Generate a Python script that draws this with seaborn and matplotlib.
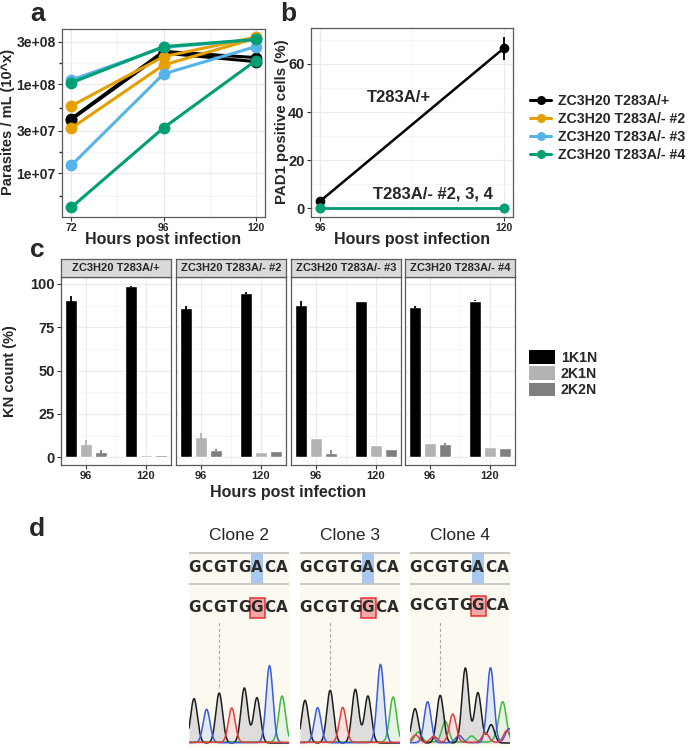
import numpy as np
import pandas as pd
import matplotlib
matplotlib.use("Agg")
import matplotlib.pyplot as plt
import seaborn as sns
from matplotlib.lines import Line2D
from matplotlib.patches import Patch, Rectangle

sns.set_theme(style="ticks")
plt.rcParams["font.family"] = ["Liberation Sans", "DejaVu Sans"]
plt.rcParams["font.weight"] = "bold"
plt.rcParams["axes.labelweight"] = "bold"

W, H = 690, 751

genotypes = ["ZC3H20 T283A/+", "ZC3H20 T283A/- #2", "ZC3H20 T283A/- #3", "ZC3H20 T283A/- #4"]
geno_colors = ["#000000", "#E69F00", "#56B4E9", "#009E73"]

# a: parasites / mL, two replicates per line
hours_a = [72, 96, 120]
wt_rep1 = [4.1e7, 2.35e8, 2.0e8]
wt_rep2 = [4.0e7, 2.25e8, 1.8e8]
ko2_rep1 = [5.7e7, 2.05e8, 3.4e8]
ko2_rep2 = [3.2e7, 1.65e8, 3.3e8]
ko3_rep1 = [1.12e8, 2.6e8, 3.2e8]
ko3_rep2 = [1.22e7, 1.31e8, 2.66e8]
ko4_rep1 = [1.04e8, 2.66e8, 3.2e8]
ko4_rep2 = [4.1e6, 3.23e7, 1.85e8]

# b: PAD1 positive cells (%)
hours_b = [96, 120]
pad1_wt = [3.0, 66.5]
pad1_wt_sd = [0.8, 4.8]
pad1_ko = [0.0, 0.0]

# c: KN counts (%), rows = 1K1N, 2K1N, 2K2N ; columns = 96 h, 120 h
kn_classes = ["1K1N", "2K1N", "2K2N"]
kn_colors = ["#000000", "#b3b3b3", "#7f7f7f"]
hours_c = ["96", "120"]
kn_wt = [[90.8, 98.6], [7.5, 1.3], [2.9, 1.0]]
kn_wt_sd = [[2.5, 0.4], [2.3, 0.0], [1.2, 0.0]]
kn_ko2 = [[86.2, 94.8], [11.5, 3.0], [4.2, 3.6]]
kn_ko2_sd = [[1.3, 0.7], [2.3, 0.0], [0.7, 0.0]]
kn_ko3 = [[88.1, 90.0], [10.9, 7.1], [2.5, 4.8]]
kn_ko3_sd = [[2.3, 0.0], [0.0, 0.0], [1.4, 0.0]]
kn_ko4 = [[86.6, 90.4], [8.0, 6.1], [7.5, 5.5]]
kn_ko4_sd = [[0.5, 0.3], [0.0, 0.0], [0.5, 0.0]]

# d: sequencing traces (peak heights per base)
ref_seq = "GCGTGACA"
clone_seq = "GCGTGGCA"
clone_names = ["Clone 2", "Clone 3", "Clone 4"]
clone2_peaks = [133, 100, 150, 103, 165, 136, 231, 138]
clone3_peaks = [128, 105, 158, 105, 161, 141, 235, 135]
clone4_peaks = [103, 123, 143, 85, 225, 151, 225, 113]
clone4_extra_pos = [0.25, 0.05, 2.4, 1.5, 3.5, 4.5, 5.6, 6.05, 7.3, 7.45, 6.6]
clone4_extra_base = ["A", "T", "A", "T", "C", "A", "T", "G", "T", "C", "A"]
clone4_extra_h = [30, 22, 62, 18, 22, 18, 28, 55, 35, 42, 22]


def rect(x0, y0, x1, y1):
    return [x0 / W, 1 - y1 / H, (x1 - x0) / W, (y1 - y0) / H]


def style_panel(ax):
    for s in ax.spines.values():
        s.set_color("#5a5a5a")
        s.set_linewidth(0.9)
        s.set_visible(True)
    ax.grid(True, which="major", color="#ebebeb", lw=0.9)
    ax.grid(True, which="minor", color="#f2f2f2", lw=0.5)
    ax.set_axisbelow(True)
    ax.tick_params(which="major", length=3, width=0.8, color="#333333", pad=1.5)
    ax.set_xlabel("")
    ax.set_ylabel("")


fig = plt.figure(figsize=(6.9, 7.51), dpi=100)

# ---------------- a ----------------
rows = []
for g, reps in zip(genotypes, [(wt_rep1, wt_rep2), (ko2_rep1, ko2_rep2),
                               (ko3_rep1, ko3_rep2), (ko4_rep1, ko4_rep2)]):
    for r, vals in enumerate(reps):
        for h, v in zip(hours_a, vals):
            rows.append({"genotype": g, "rep": r, "hours": h, "cells": v})
df_a = pd.DataFrame(rows)

ax_a = fig.add_axes(rect(62, 29, 265, 217))
sns.lineplot(data=df_a, x="hours", y="cells", hue="genotype", units="rep",
             estimator=None, hue_order=genotypes, palette=geno_colors,
             marker="o", markersize=8.5, markeredgewidth=0, linewidth=2.2,
             legend=False, ax=ax_a)
ax_a.set_yscale("log")
ax_a.set_ylim(3.2e6, 4.2e8)
ax_a.set_xlim(69.6, 122.4)
ax_a.set_yticks([1e7, 3e7, 1e8, 3e8])
ax_a.set_yticklabels(["1e+07", "3e+07", "1e+08", "3e+08"])
ax_a.set_yticks([5.48e6, 1.73e7, 5.48e7, 1.73e8], minor=True)
ax_a.set_xticks([72, 96, 120])
ax_a.set_xticks([84, 108], minor=True)
style_panel(ax_a)
ax_a.tick_params(which="minor", axis="y", length=2, color="#333333")
ax_a.tick_params(which="minor", axis="x", length=0)
ax_a.tick_params(axis="y", labelsize=10)
ax_a.tick_params(axis="x", labelsize=7.5)
fig.text(8 / W, 1 - 122 / H, "Parasites / mL (10^x)", rotation=90, ha="center",
         va="center", fontsize=10.5, fontweight="bold")
fig.text(163 / W, 1 - 240 / H, "Hours post infection", ha="center", va="center",
         fontsize=11.5, fontweight="bold")

# ---------------- b ----------------
df_b = pd.DataFrame({
    "genotype": np.repeat(genotypes, 2),
    "hours": hours_b * 4,
    "pad1": pad1_wt + pad1_ko * 3,
})
ax_b = fig.add_axes(rect(311, 28, 513, 217))
sns.lineplot(data=df_b, x="hours", y="pad1", hue="genotype", hue_order=genotypes,
             palette=geno_colors, marker="o", markersize=7, markeredgewidth=0,
             linewidth=1.8, legend=False, ax=ax_b)
ax_b.errorbar(hours_b, pad1_wt, yerr=pad1_wt_sd, fmt="none", ecolor="#000000",
              elinewidth=1.3, capsize=0, zorder=5)
ax_b.set_xlim(94.8, 121.2)
ax_b.set_ylim(-3.6, 74.9)
ax_b.set_yticks([0, 20, 40, 60])
ax_b.set_yticks([10, 30, 50, 70], minor=True)
ax_b.set_xticks([96, 120])
ax_b.set_xticks([108], minor=True)
style_panel(ax_b)
ax_b.tick_params(which="minor", length=0)
ax_b.tick_params(axis="y", labelsize=10.5)
ax_b.tick_params(axis="x", labelsize=7.5)
ax_b.text(106.3, 46.2, "T283A/+", ha="center", va="center", fontsize=12, fontweight="bold")
ax_b.text(110.7, 6.1, "T283A/- #2, 3, 4", ha="center", va="center", fontsize=12,
          fontweight="bold")
fig.text(282 / W, 1 - 122 / H, "PAD1 positive cells (%)", rotation=90, ha="center",
         va="center", fontsize=10.8, fontweight="bold")
fig.text(412 / W, 1 - 240 / H, "Hours post infection", ha="center", va="center",
         fontsize=11.5, fontweight="bold")

handles = [Line2D([], [], color=c, lw=2.2, marker="o", markersize=6.5, markeredgewidth=0)
           for c in geno_colors]
fig.legend(handles, genotypes, loc="upper left", bbox_to_anchor=(530 / W, 1 - 94 / H),
           frameon=False, handlelength=1.5, handletextpad=0.5,
           labelspacing=0.28, borderpad=0, borderaxespad=0,
           prop={"weight": "bold", "size": 10.2})

# ---------------- c ----------------
facet_x = [61, 176, 291, 405]
facet_data = [(kn_wt, kn_wt_sd), (kn_ko2, kn_ko2_sd), (kn_ko3, kn_ko3_sd), (kn_ko4, kn_ko4_sd)]
for i, (g, (means, sds)) in enumerate(zip(genotypes, facet_data)):
    x0 = facet_x[i]
    d = pd.DataFrame({
        "hours": hours_c * 3,
        "kn": np.repeat(kn_classes, 2),
        "pct": [v for row in means for v in row],
    })
    ax = fig.add_axes(rect(x0, 277, x0 + 110, 465))
    sns.barplot(data=d, x="hours", y="pct", hue="kn", order=hours_c, hue_order=kn_classes,
                palette=kn_colors, width=0.75, gap=0.22, errorbar=None, saturation=1,
                legend=False, ax=ax)
    for cont, col, m, s in zip(ax.containers, kn_colors, means, sds):
        xs = [b.get_x() + b.get_width() / 2 for b in cont]
        ax.errorbar(xs, m, yerr=s, fmt="none", ecolor=col, elinewidth=1.3, capsize=0)
    ax.set_xlim(-0.42, 1.42)
    ax.set_ylim(-4.5, 104)
    ax.set_yticks([0, 25, 50, 75, 100])
    ax.set_yticks([12.5, 37.5, 62.5, 87.5], minor=True)
    ax.set_xticks([0, 1])
    ax.set_xticks([0.5], minor=True)
    style_panel(ax)
    ax.tick_params(which="minor", length=0)
    ax.tick_params(axis="x", labelsize=8)
    ax.tick_params(axis="y", labelsize=10.5)
    if i > 0:
        ax.tick_params(axis="y", length=0, labelleft=False)
    sax = fig.add_axes(rect(x0, 259, x0 + 110, 277))
    sax.set_facecolor("#d9d9d9")
    sax.set_xticks([])
    sax.set_yticks([])
    for s in sax.spines.values():
        s.set_color("#5a5a5a")
        s.set_linewidth(0.9)
    sax.text(0.5, 0.5, g, ha="center", va="center", fontsize=8, fontweight="bold",
             transform=sax.transAxes)

fig.text(10 / W, 1 - 371 / H, "KN count (%)", rotation=90, ha="center", va="center",
         fontsize=10.5, fontweight="bold")
fig.text(288 / W, 1 - 493 / H, "Hours post infection", ha="center", va="center",
         fontsize=11.5, fontweight="bold")
kn_handles = [Patch(facecolor=c, edgecolor="none") for c in kn_colors]
fig.legend(kn_handles, kn_classes, loc="upper left", bbox_to_anchor=(529 / W, 1 - 350 / H),
           frameon=False, handlelength=1.8, handleheight=1.1, handletextpad=0.45,
           labelspacing=0.12, borderpad=0, borderaxespad=0,
           prop={"weight": "bold", "size": 10.2})

# ---------------- d ----------------
trace_colors = {"G": "#1c1c1c", "C": "#3b5bd9", "T": "#e5413b", "A": "#3dbb3d"}
fill_colors = {"G": "#d4d4d4", "C": "#dde5f6", "T": "#f6dcdc", "A": "#e3f1e0"}
base_offset = {"G": 0, "C": 2, "T": 4, "A": 6}
clone_x = [189, 300, 410]
clone_peaks = [clone2_peaks, clone3_peaks, clone4_peaks]
grid = np.linspace(-0.4, 7.55, 500)
seq_font = ["DejaVu Sans"]
for k in range(3):
    ax = fig.add_axes(rect(clone_x[k], 552, clone_x[k] + 100, 747))
    ax.set_facecolor("#fcf9f1")
    for s in ax.spines.values():
        s.set_visible(False)
    ax.set_xticks([])
    ax.set_yticks([])
    ax.set_xlim(-0.4, 7.55)
    ax.set_ylim(-12, 573)
    ax.axhline(571, color="#c4c4c4", lw=1.3)
    ax.axhline(478, color="#c4c4c4", lw=1.3)
    ax.add_patch(Rectangle((4.55, 478), 0.9, 95, facecolor="#a9c8f0", edgecolor="none"))
    for i, (b1, b2) in enumerate(zip(ref_seq, clone_seq)):
        ax.text(i, 525, b1, ha="center", va="center", fontsize=11, fontweight="bold",
                color="#2a2a2a", family=seq_font)
        ax.text(i, 408 if k < 2 else 413, b2, ha="center", va="center", fontsize=11,
                fontweight="bold", color="#2a2a2a", family=seq_font)
    ax.add_patch(Rectangle((4.45, 376 if k < 2 else 381), 1.2, 60, facecolor="#f2a0a0",
                           edgecolor="#e02020", lw=1.1, alpha=0.9, zorder=1))
    ax.plot([2, 2], [168, 363], color="#aaaaaa", lw=0.8, ls=(0, (3, 2)))
    pos = list(range(8))
    bases = list(clone_seq)
    hts = list(clone_peaks[k])
    if k == 2:
        pos += clone4_extra_pos
        bases += clone4_extra_base
        hts += clone4_extra_h
    for b in "AGCT":
        y = np.full_like(grid, base_offset[b] * 0.5)
        for p, bb, h in zip(pos, bases, hts):
            if bb == b:
                y = y + h * np.exp(-(grid - p) ** 2 / (2 * 0.27 ** 2))
        ax.fill_between(grid, 0, y, color=fill_colors[b], alpha=0.75, lw=0)
        ax.plot(grid, y, color=trace_colors[b], lw=1.1)
    fig.text((clone_x[k] + 50) / W, 1 - 536 / H, clone_names[k], ha="center", va="center",
             fontsize=12.5, fontweight="normal")

for lab, x, y in [("a", 30, 21), ("b", 280, 21), ("c", 30, 257), ("d", 29, 536)]:
    fig.text(x / W, 1 - y / H, lab, ha="left", va="baseline", fontsize=19, fontweight="bold")

fig.savefig("out.png", dpi=100)
